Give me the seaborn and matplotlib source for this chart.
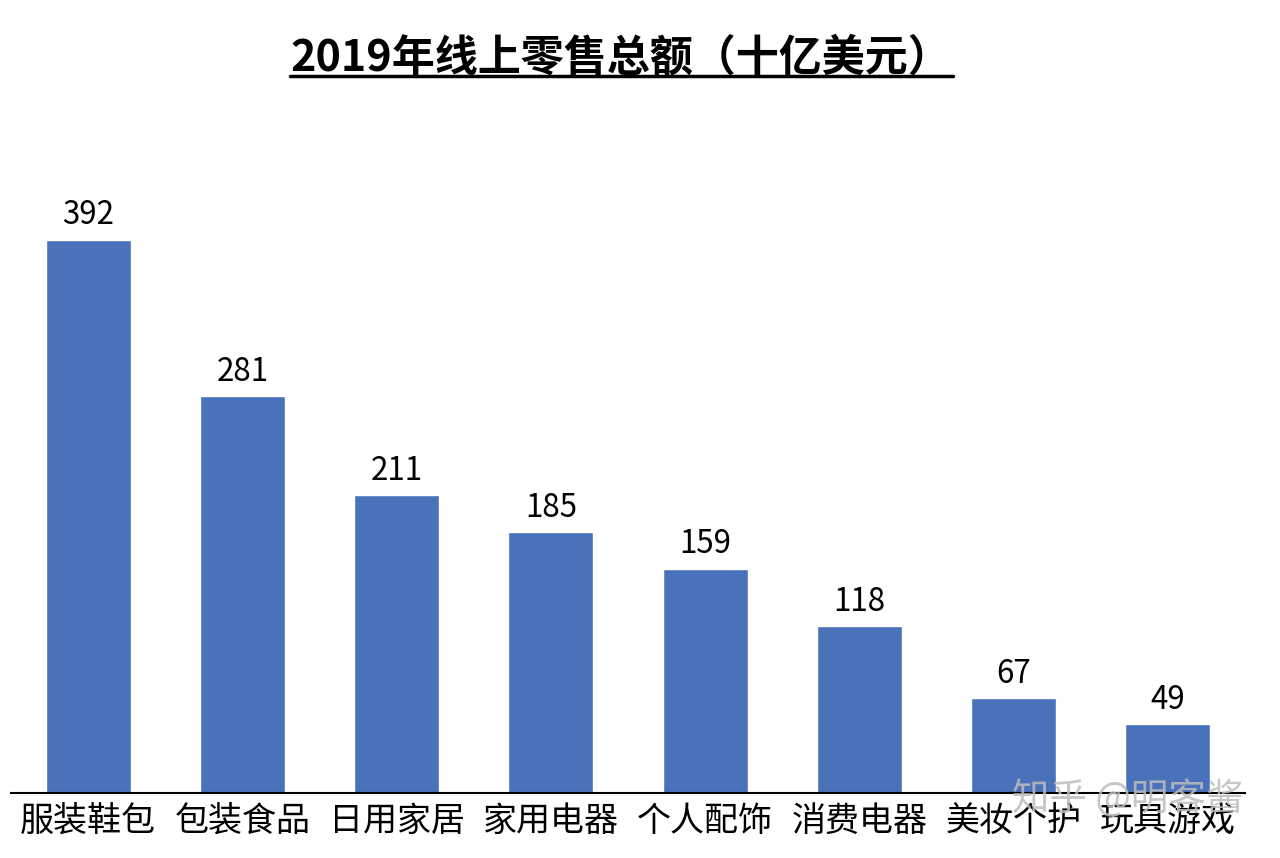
import matplotlib
matplotlib.use("Agg")
import matplotlib.pyplot as plt
import seaborn as sns
import pandas as pd
from matplotlib.lines import Line2D

categories = ["服装鞋包", "包装食品", "日用家居", "家用电器", "个人配饰", "消费电器", "美妆个护", "玩具游戏"]
values = [392, 281, 211, 185, 159, 118, 67, 49]
title = "2019年线上零售总额（十亿美元）"
watermark = "知乎 @明客酱"

sns.set_theme(style="white")
plt.rcParams['font.family'] = ['Noto Sans CJK SC', 'DejaVu Sans']

df = pd.DataFrame({"cat": categories, "val": values})

fig = plt.figure(figsize=(12.8, 8.58), dpi=100)
ax = fig.add_axes([11 / 1280, 65 / 858, 1234 / 1280, 0.8159 - 65 / 858])

sns.barplot(data=df, x="cat", y="val", color="#4A72BA", saturation=1, width=0.551, ax=ax)

ax.set_xlim(-0.5, 7.5)
ax.set_ylim(0, 450)
ax.set_xlabel("")
ax.set_ylabel("")
ax.set_yticks([])
for s in ["top", "right", "left"]:
    ax.spines[s].set_visible(False)
ax.spines["bottom"].set_color("black")
ax.spines["bottom"].set_linewidth(1.5)
ax.tick_params(axis="x", length=0, pad=8, labelsize=24.5, labelcolor="black")

for i, v in enumerate(values):
    ax.annotate(str(v), (i, v), xytext=(0, 6), textcoords="offset points",
                ha="center", va="bottom", fontsize=22.5, color="black")

fig.text(621 / 1280, 1 - 57 / 858, title, ha="center", va="center",
         fontsize=31, fontweight="bold", color="black")
uy = 1 - 76 / 858
fig.add_artist(Line2D([290 / 1280, 953 / 1280], [uy, uy], color="black", linewidth=2.5,
                      transform=fig.transFigure))

fig.text(1128 / 1280, 1 - 800 / 858, watermark, ha="center", va="center",
         fontsize=27, color="#bdbdbd", alpha=0.85)

fig.savefig("out.png", dpi=100)
